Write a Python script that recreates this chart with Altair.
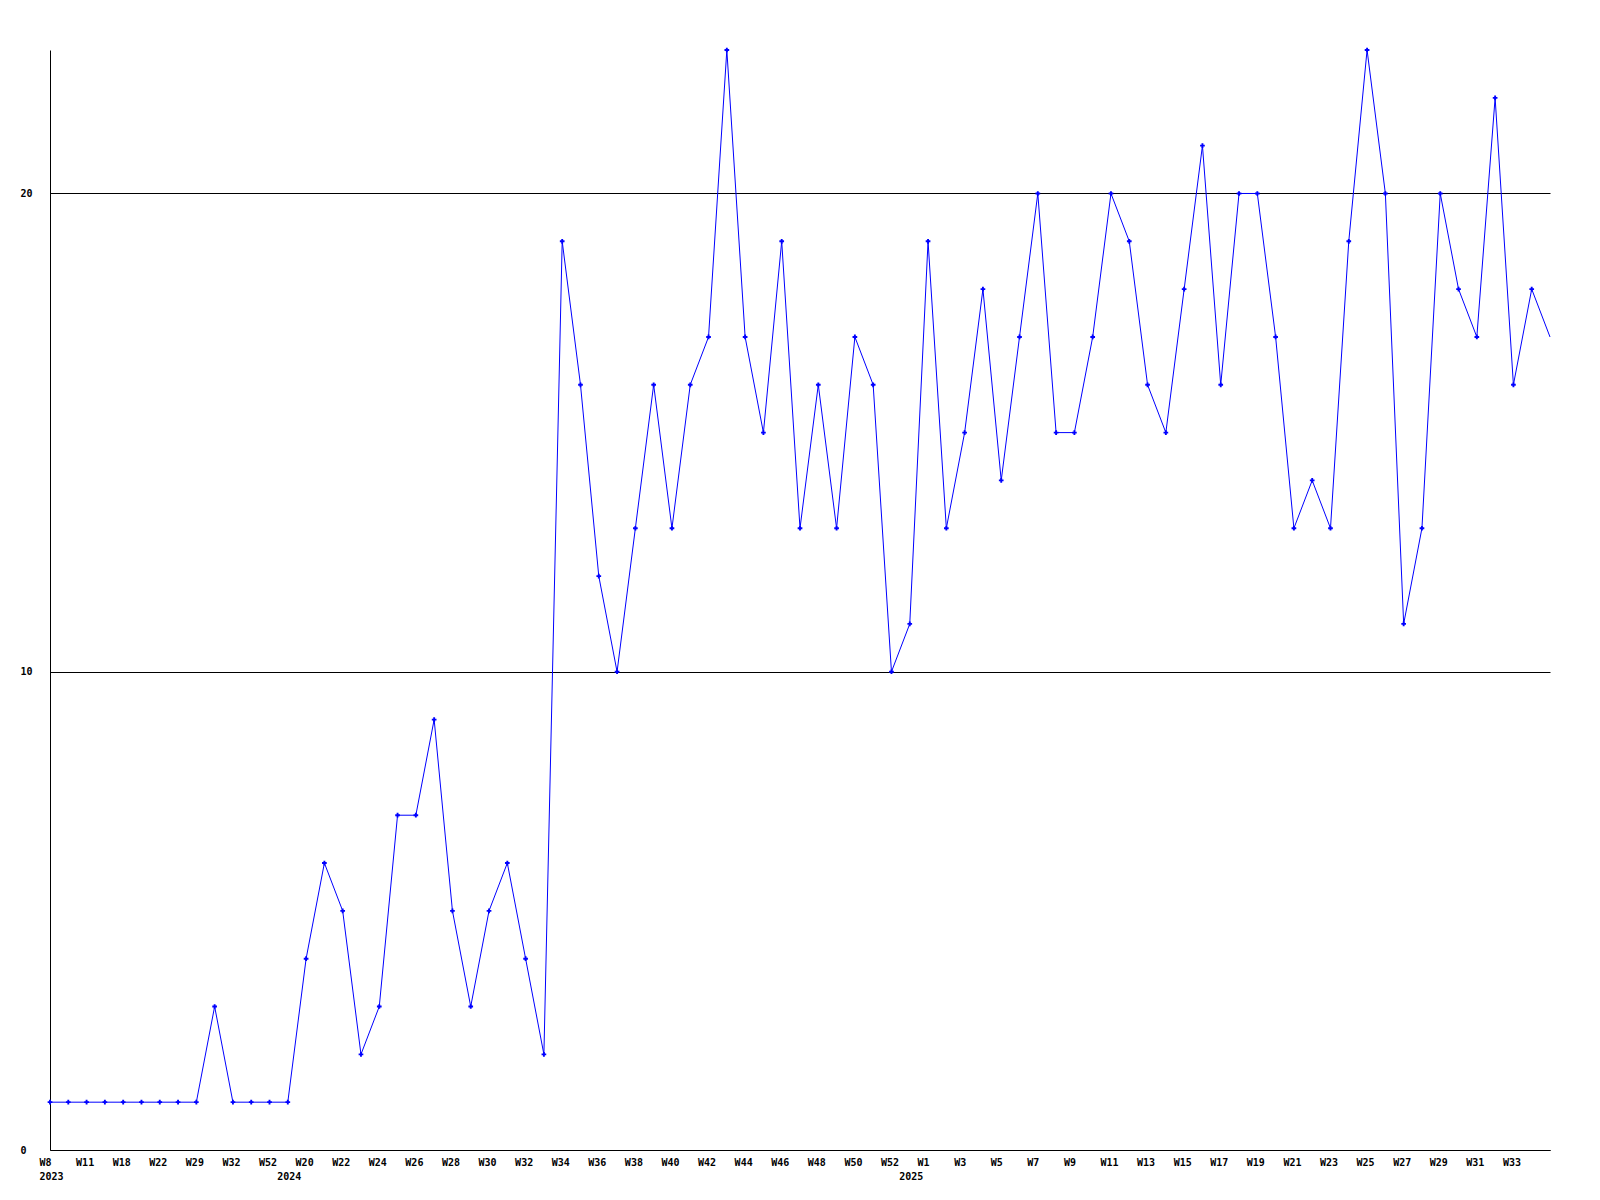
import json
import altair as alt
import pandas as pd

# Weekly values, one per point (index 0 = 2023 W8 ... index 82)
values = [1, 1, 1, 1, 1, 1, 1, 1, 1, 3, 1, 1, 1, 1, 4, 6, 5, 2, 3, 7, 7, 9, 5, 3, 5, 6, 4, 2,
          19, 16, 12, 10, 13, 16, 13, 16, 17, 23, 17, 15, 19, 13, 16, 13, 17, 16, 10, 11,
          19, 13, 15, 18, 14, 17, 20, 15, 15, 17, 20, 19, 16, 15, 18, 21, 16, 20, 20, 17,
          13, 14, 13, 19, 23, 20, 11, 13, 20, 18, 17, 22, 16, 18, 17]

# Week tick labels shown at every other point (indices 0, 2, 4, ...)
tick_labels = ["W8", "W11", "W18", "W22", "W29", "W32", "W52", "W20", "W22", "W24", "W26",
               "W28", "W30", "W32", "W34", "W36", "W38", "W40", "W42", "W44", "W46", "W48",
               "W50", "W52", "W1", "W3", "W5", "W7", "W9", "W11", "W13", "W15", "W17", "W19",
               "W21", "W23", "W25", "W27", "W29", "W31", "W33"]

# Year labels (point index where the year begins)
year_index = [0, 13, 47]
year_labels = ["2023", "2024", "2025"]

y_ticks = [0, 10, 20]

n = len(values)
df = pd.DataFrame({"i": list(range(n)), "v": values})
df["marker"] = df["i"] < n - 1

# Build label lookup array
lab = [""] * n
tick_idx = []
for k, t in enumerate(tick_labels):
    idx = 2 * k
    lab[idx] = [t]
    tick_idx.append(idx)
for idx, y in zip(year_index, year_labels):
    if isinstance(lab[idx], list):
        lab[idx] = lab[idx] + [y]
    else:
        lab[idx] = ["", y]
    if idx not in tick_idx:
        tick_idx.append(idx)
tick_idx.sort()
label_expr = json.dumps(lab) + "[datum.value]"

BLUE = "#0000ff"
FONT = "DejaVu Sans Mono"

x = alt.X("i:Q",
          scale=alt.Scale(domain=[0, n - 1], nice=False, zero=False),
          axis=alt.Axis(values=tick_idx, labelExpr=label_expr, title=None,
                        grid=False, ticks=False, tickSize=0,
                        labelAlign="left", labelBaseline="top", labelOffset=-11,
                        labelPadding=7, labelFlush=False, labelOverlap=False,
                        labelBound=False, labelLineHeight=14,
                        domainColor="black", domainWidth=1))
y = alt.Y("v:Q",
          scale=alt.Scale(domain=[0, 23], nice=False),
          axis=alt.Axis(values=y_ticks, title=None, grid=True, gridColor="black",
                        gridOpacity=1, gridWidth=1, ticks=False, tickSize=0,
                        labelAlign="left", labelBaseline="middle", labelPadding=30,
                        labelFlush=False, domainColor="black", domainWidth=1))

line = alt.Chart(df).mark_line(color=BLUE, strokeWidth=1).encode(x=x, y=y)
pts = alt.Chart(df).transform_filter("datum.marker").mark_point(
    shape="cross", filled=True, size=22, color=BLUE, opacity=1).encode(x=x, y=y)

chart = alt.layer(line, pts).properties(
    width=1500, height=1100,
    autosize=alt.AutoSizeParams(type="none"),
    padding={"left": 42, "top": 42, "right": 42, "bottom": 42},
    background="white",
).configure_view(stroke=None).configure_axis(
    labelFont=FONT, labelFontSize=10, labelFontWeight="bold", labelColor="black"
)

chart.save("out.html", embed_options={"renderer": "svg", "actions": False})
